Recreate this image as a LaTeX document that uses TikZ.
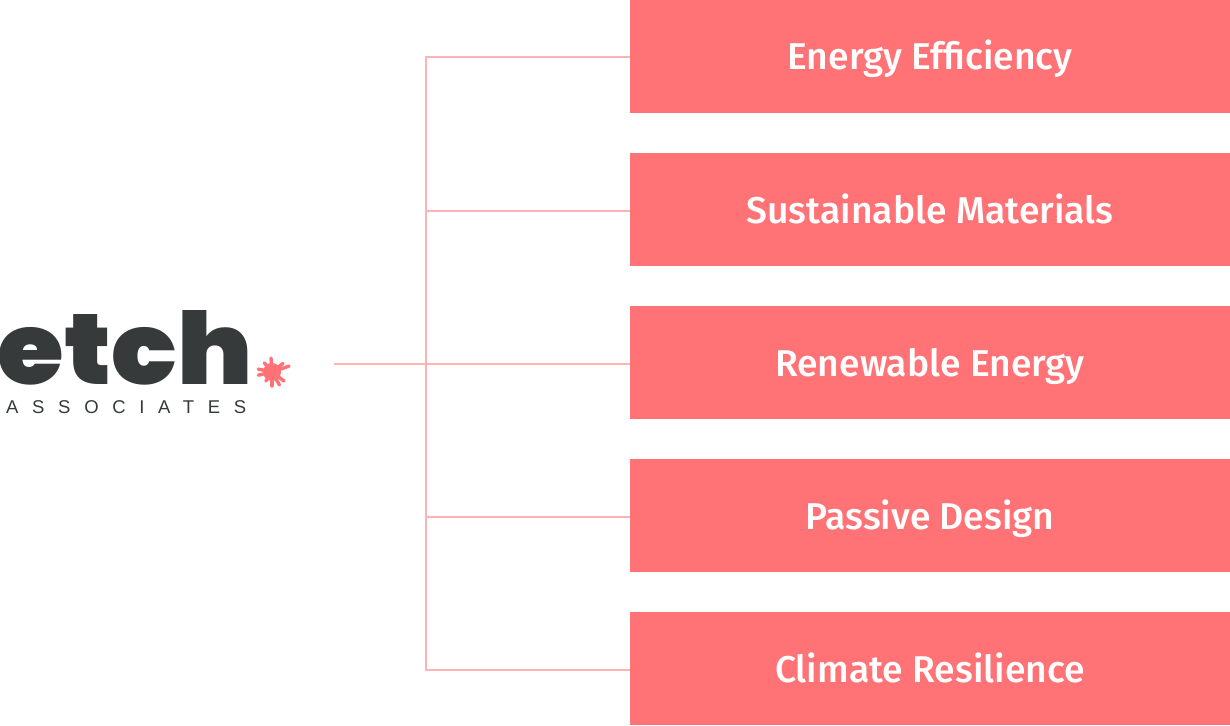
\documentclass[tikz,border=0pt]{standalone}
\usepackage{fontspec}
\setmainfont{Fira Sans Medium}
\newfontfamily\logofont{Poppins Black}
\newfontfamily\subfont{Liberation Sans}
\usepackage{xcolor}
\usetikzlibrary{positioning}
\definecolor{etchred}{HTML}{FF7276}
\definecolor{etchline}{HTML}{FFB3B6}
\definecolor{etchdark}{HTML}{363A3B}

\begin{document}
\begin{tikzpicture}[x=1pt, y=-1pt,
    topic/.style={rectangle, fill=etchred, text=white, minimum width=600pt, minimum height=113pt,
      inner sep=0pt, outer sep=0pt, text height=32pt, text depth=5pt, font=\fontsize{37.3}{37.3}\selectfont},
    link/.style={draw=etchline, line width=2pt},
    spark/.style={draw=etchred, line width=3.4pt, line cap=round}]
        \tikzset{>=latex}

        % Fix the page
        \useasboundingbox (0,0) rectangle (1230,725);

        % Topic boxes
        \node[topic] (efficiency) at (930,56.5) {Energy Efficiency};
        \node[topic, below=40pt of efficiency] (materials) {Sustainable Materials};
        \node[topic, below=40pt of materials] (renewable) {Renewable Energy};
        \node[topic, below=40pt of renewable] (passive) {Passive Design};
        \node[topic, below=40pt of passive] (resilience) {Climate Resilience};

        % Logo
        \node[anchor=base west, inner sep=0pt, text=etchdark] (etch) at (-2.5,384)
          {\scalebox{1.08}[1]{\logofont\fontsize{100}{100}\selectfont etch}};
        \node[anchor=base west, inner sep=0pt, text=etchdark] (associates) at (6,413)
          {\subfont\fontsize{18.5}{18.5}\selectfont\addfontfeature{LetterSpace=74}ASSOCIATES};

        % Spark next to the logo
        \coordinate (spark) at (272,372);
        \fill[etchred] (spark) circle (9);
        \foreach \a/\r in {-19/18,37/15,60/15,90/14,124/11,167/14,192/14,230/12,266/14,322/14} {
          \draw[spark] (spark) -- ++(\a:\r);
        }

        % Connectors
        \coordinate (start) at (334,364);
        \coordinate (spine) at (426,364);
        \draw[link] (start) -- (renewable.west |- spine);
        \foreach \n/\y in {efficiency/57,materials/211,passive/517,resilience/670} {
          \draw[link] (spine) |- (\n.west |- 0,\y);
        }
\end{tikzpicture}
\end{document}
